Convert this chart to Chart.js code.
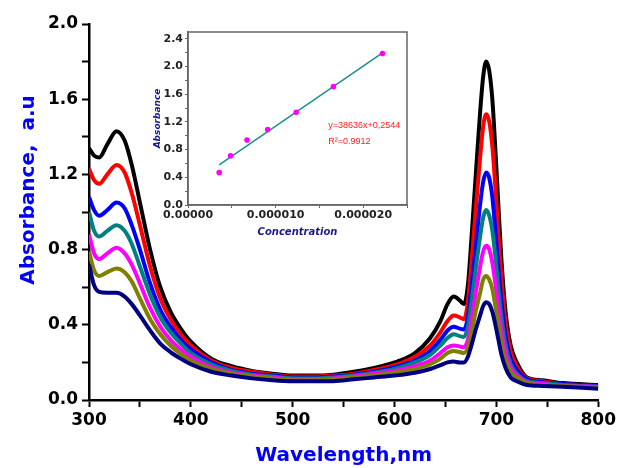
<!DOCTYPE html>
<html>
<head>
<meta charset="utf-8">
<script src="https://cdn.jsdelivr.net/npm/chart.js@4.4.1/dist/chart.umd.min.js"></script>
<style>
  html, body { margin: 0; padding: 0; background: #fff; }
  #wrap { position: relative; width: 619px; height: 468px; }
  #mainChart { position: absolute; left: 0; top: 0; }
  #insetChart { position: absolute; left: 130px; top: 18px; }
</style>
</head>
<body>
<div id="wrap">
  <canvas id="mainChart" width="619" height="468"></canvas>
  <canvas id="insetChart" width="290" height="226"></canvas>
</div>
<script>
// Spectra (wavelength in nm, absorbance in a.u.)
const wavelengths = [300, 305, 310, 318, 327, 335, 342, 350, 360, 370, 380, 390, 400, 420, 440, 460, 480, 500, 520, 540, 560, 580, 600, 620, 635, 645, 652, 658, 664, 668, 672, 676, 680, 684, 687, 690, 693, 696, 699, 702, 705, 709, 714, 720, 730, 745, 765, 800];

const absBlack   = [1.34, 1.30, 1.29, 1.36, 1.43, 1.38, 1.25, 1.05, 0.80, 0.60, 0.47, 0.38, 0.31, 0.22, 0.18, 0.155, 0.14, 0.13, 0.13, 0.135, 0.15, 0.17, 0.20, 0.25, 0.33, 0.42, 0.51, 0.55, 0.53, 0.51, 0.61, 0.90, 1.22, 1.53, 1.72, 1.80, 1.75, 1.60, 1.33, 1.03, 0.74, 0.47, 0.29, 0.20, 0.12, 0.105, 0.09, 0.08];
const absRed     = [1.23, 1.17, 1.15, 1.20, 1.25, 1.21, 1.10, 0.93, 0.71, 0.54, 0.43, 0.35, 0.29, 0.21, 0.17, 0.15, 0.135, 0.125, 0.125, 0.13, 0.14, 0.16, 0.185, 0.23, 0.29, 0.36, 0.42, 0.45, 0.44, 0.43, 0.52, 0.76, 1.03, 1.29, 1.455, 1.52, 1.48, 1.35, 1.13, 0.87, 0.64, 0.41, 0.26, 0.18, 0.115, 0.10, 0.085, 0.075];
const absBlue    = [1.08, 1.01, 0.98, 1.01, 1.05, 1.02, 0.93, 0.80, 0.62, 0.48, 0.39, 0.32, 0.27, 0.20, 0.16, 0.14, 0.13, 0.12, 0.12, 0.125, 0.135, 0.15, 0.175, 0.21, 0.26, 0.32, 0.37, 0.39, 0.38, 0.375, 0.44, 0.63, 0.83, 1.04, 1.16, 1.21, 1.18, 1.08, 0.90, 0.70, 0.52, 0.34, 0.22, 0.16, 0.11, 0.095, 0.085, 0.075];
const absTeal    = [1.00, 0.90, 0.87, 0.90, 0.93, 0.90, 0.83, 0.71, 0.56, 0.44, 0.36, 0.30, 0.25, 0.19, 0.155, 0.135, 0.125, 0.115, 0.115, 0.12, 0.13, 0.145, 0.165, 0.20, 0.24, 0.29, 0.33, 0.35, 0.34, 0.335, 0.39, 0.54, 0.71, 0.87, 0.97, 1.01, 0.98, 0.90, 0.76, 0.59, 0.44, 0.29, 0.19, 0.14, 0.10, 0.09, 0.08, 0.07];
const absMagenta = [0.88, 0.78, 0.75, 0.78, 0.81, 0.78, 0.72, 0.62, 0.49, 0.39, 0.32, 0.27, 0.23, 0.175, 0.145, 0.13, 0.12, 0.11, 0.11, 0.115, 0.125, 0.14, 0.155, 0.18, 0.21, 0.25, 0.28, 0.29, 0.285, 0.28, 0.32, 0.44, 0.58, 0.71, 0.79, 0.82, 0.80, 0.73, 0.62, 0.49, 0.36, 0.25, 0.17, 0.13, 0.095, 0.085, 0.075, 0.07];
const absOlive   = [0.79, 0.69, 0.66, 0.68, 0.70, 0.68, 0.63, 0.54, 0.43, 0.35, 0.29, 0.245, 0.21, 0.165, 0.14, 0.125, 0.115, 0.105, 0.105, 0.11, 0.12, 0.13, 0.145, 0.165, 0.19, 0.22, 0.25, 0.26, 0.255, 0.25, 0.28, 0.37, 0.48, 0.57, 0.64, 0.66, 0.64, 0.59, 0.50, 0.40, 0.30, 0.21, 0.15, 0.12, 0.09, 0.08, 0.075, 0.065];
const absNavy    = [0.72, 0.61, 0.575, 0.57, 0.57, 0.55, 0.51, 0.45, 0.37, 0.30, 0.255, 0.22, 0.19, 0.15, 0.13, 0.115, 0.105, 0.10, 0.10, 0.10, 0.11, 0.12, 0.13, 0.145, 0.165, 0.185, 0.20, 0.205, 0.20, 0.20, 0.23, 0.30, 0.38, 0.45, 0.50, 0.52, 0.51, 0.47, 0.40, 0.32, 0.24, 0.17, 0.12, 0.10, 0.08, 0.075, 0.07, 0.06];

// Calibration inset
const concentration = [3.56e-6, 4.86e-6, 6.74e-6, 9.1e-6, 1.235e-5, 1.66e-5, 2.22e-5];
const absorbanceMeasured = [0.47, 0.71, 0.94, 1.09, 1.34, 1.71, 2.19];
const fitConcentration = [3.56e-6, 2.22e-5];
const fitAbsorbance = [0.58, 2.20];
const insetYTicks = [0, 0.2, 0.4, 0.6, 0.8, 1.0, 1.2, 1.4, 1.6, 1.8, 2.0, 2.2, 2.4];
const fitEquation = 'y=38636x+0,2544';
const fitR2 = 'R\u00B2=0.9912';

const spectra = [absBlack, absRed, absBlue, absTeal, absMagenta, absOlive, absNavy];
const spectraColors = ['#000000', '#ff0000', '#0000ff', '#008080', '#ff00ff', '#808000', '#000080'];

const FONT = "'DejaVu Sans', sans-serif";

function toPoints(xs, ys) {
    return xs.map((x, i) => ({ x: x, y: ys[i] }));
}

// y-axis title sits a bit above the middle of the axis in the original
const mainYTitle = {
    id: 'mainYTitle',
    afterDraw(chart) {
        const ctx = chart.ctx;
        ctx.save();
        ctx.translate(29, 190);
        ctx.rotate(-Math.PI / 2);
        ctx.fillStyle = '#0000ff';
        ctx.font = "bold 20px 'DejaVu Sans', sans-serif";
        ctx.textAlign = 'center';
        ctx.textBaseline = 'middle';
        ctx.fillText('Absorbance,  a.u', 0, 0);
        ctx.restore();
    }
};

// --- MAIN SPECTRA CHART ---
new Chart(document.getElementById('mainChart'), {
    type: 'line',
    data: {
        datasets: spectra.map((vals, i) => ({
            data: toPoints(wavelengths, vals),
            borderColor: spectraColors[i],
            borderWidth: 4,
            pointRadius: 0,
            cubicInterpolationMode: 'monotone',
            order: spectra.length - i
        }))
    },
    options: {
        responsive: false,
        animation: false,
        layout: { padding: { top: 24, right: 19, left: 0, bottom: 0 } },
        plugins: { legend: { display: false }, tooltip: { enabled: false } },
        scales: {
            x: {
                type: 'linear',
                min: 300,
                max: 800,
                ticks: {
                    stepSize: 50,
                    autoSkip: false,
                    maxRotation: 0,
                    padding: 3,
                    color: '#000',
                    font: { family: FONT, size: 17, weight: 'bold' },
                    callback: v => (v % 100 === 0 ? v : '')
                },
                grid: { drawOnChartArea: false, tickLength: 7, tickWidth: 2, tickColor: '#000' },
                border: { color: '#000', width: 2.5 },
                title: {
                    display: true,
                    text: 'Wavelength,nm',
                    color: '#0000ff',
                    font: { family: FONT, size: 20, weight: 'bold' },
                    padding: { top: 0, bottom: 0 }
                },
                afterFit: s => { s.height = 68; }
            },
            y: {
                min: 0,
                max: 2,
                ticks: {
                    stepSize: 0.2,
                    autoSkip: false,
                    padding: 4,
                    color: '#000',
                    font: { family: FONT, size: 17, weight: 'bold' },
                    callback: v => (Math.round(v * 10) % 4 === 0 ? v.toFixed(1) : '')
                },
                grid: { drawOnChartArea: false, tickLength: 7, tickWidth: 2, tickColor: '#000' },
                border: { color: '#000', width: 2.5 },
                afterFit: s => { s.width = 89; }
            }
        }
    },
    plugins: [mainYTitle]
});

// --- INSET CALIBRATION CHART ---
const insetFrame = {
    id: 'insetFrame',
    afterDraw(chart) {
        const a = chart.chartArea;
        const ctx = chart.ctx;
        ctx.save();
        ctx.strokeStyle = '#666';
        ctx.lineWidth = 1.5;
        ctx.strokeRect(a.left, a.top, a.right - a.left, a.bottom - a.top);
        // fit equation text
        ctx.fillStyle = '#ff2020';
        ctx.font = "9px 'Liberation Sans', sans-serif";
        ctx.textBaseline = 'middle';
        const tx = a.left + (a.right - a.left) * 0.64;
        ctx.fillText(fitEquation, tx, a.top + (a.bottom - a.top) * 0.54);
        ctx.fillText(fitR2, tx, a.top + (a.bottom - a.top) * 0.635);
        ctx.restore();
    }
};

new Chart(document.getElementById('insetChart'), {
    type: 'scatter',
    data: {
        datasets: [
            {
                type: 'scatter',
                data: toPoints(concentration, absorbanceMeasured),
                backgroundColor: '#ff00ff',
                pointRadius: 2.8,
                pointBorderWidth: 0,
                order: 0
            },
            {
                type: 'line',
                data: toPoints(fitConcentration, fitAbsorbance),
                borderColor: '#1b8f8f',
                borderWidth: 1.5,
                pointRadius: 0,
                order: 1
            }
        ]
    },
    options: {
        responsive: false,
        animation: false,
        layout: { padding: { top: 14, right: 13, left: 0, bottom: 0 } },
        plugins: { legend: { display: false }, tooltip: { enabled: false } },
        scales: {
            x: {
                type: 'linear',
                min: 0,
                max: 2.5e-5,
                ticks: {
                    stepSize: 5e-6,
                    autoSkip: false,
                    maxRotation: 0,
                    padding: 1,
                    color: '#222',
                    font: { family: FONT, size: 11, weight: 'bold' },
                    callback: v => {
                        const k = Math.round(v / 5e-6);
                        if (k % 2 !== 0) return '';
                        return k === 0 ? '0.00000' : v.toFixed(6);
                    }
                },
                grid: { drawOnChartArea: false, tickLength: 3, tickColor: '#666' },
                border: { color: '#666', width: 1.5 },
                title: {
                    display: true,
                    text: 'Concentration',
                    color: '#1a1a8c',
                    font: { family: FONT, size: 10, weight: 'bold', style: 'italic' },
                    padding: { top: 0, bottom: 6 }
                },
                afterFit: s => { s.height = 39; }
            },
            y: {
                min: 0,
                max: 2.5,
                afterBuildTicks: s => { s.ticks = insetYTicks.map(v => ({ value: v })); },
                ticks: {
                    autoSkip: false,
                    padding: 2,
                    color: '#222',
                    font: { family: FONT, size: 11, weight: 'bold' },
                    callback: v => (Math.round(v * 10) % 4 === 0 ? v.toFixed(1) : '')
                },
                grid: { drawOnChartArea: false, tickLength: 3, tickColor: '#666' },
                border: { color: '#666', width: 1.5 },
                title: {
                    display: true,
                    text: 'Absorbance',
                    color: '#1a1a8c',
                    font: { family: FONT, size: 9, weight: 'bold', style: 'italic' },
                    padding: { top: 22, bottom: 0 }
                },
                afterFit: s => { s.width = 58; }
            }
        }
    },
    plugins: [insetFrame]
});
</script>
</body>
</html>
